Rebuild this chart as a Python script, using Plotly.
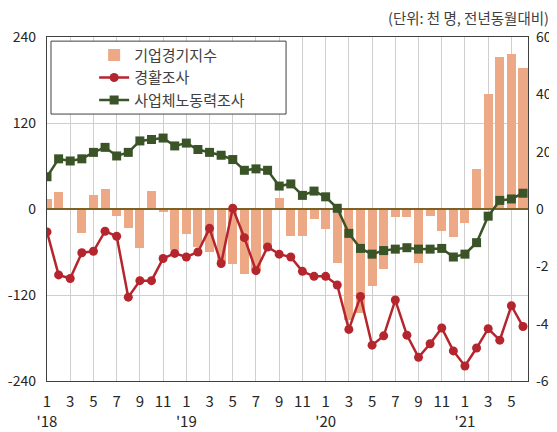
import plotly.graph_objects as go

# monthly, Jan 2018 .. Jun 2021
months = [f"{y}-{m:02d}" for y in (2018, 2019, 2020, 2021) for m in range(1, 13)][:42]

# 기업경기지수 (right axis)
bsi = [3.4, 5.8, 0, -8.5, 4.8, 7.0, -2.3, -6.7, -13.5, 6.3, -0.9, -14.3,
       -8.8, -13.1, -14.9, -19, -19.2, -22.7, -21.5, -14, 3.9, -9.3, -9.3, -3.6,
       -7.1, -19, -38.7, -36.2, -26.9, -21, -2.7, -2.7, -19, -2.4, -7.6, -9.9,
       -5, 14, 40, 53.1, 54.1, 49.2]

# 경활조사 (left axis, 천 명)
lfs = [-32, -92, -97, -61, -59, -31, -38, -123, -100, -100, -69, -62,
       -67, -60, -27, -76, 1, -40, -86, -53, -63, -67, -87, -94,
       -94, -106, -168, -122, -190, -177, -127, -176, -207, -188, -166, -198,
       -219, -194, -167, -183, -135, -164]

# 사업체노동력조사 (left axis, 천 명)
biz = [45, 70, 67, 70, 79, 86, 74, 79, 95, 97, 99, 88,
       92, 83, 79, 75, 69, 54, 56, 54, 32, 35, 19, 25,
       17, 1, -34, -55, -63, -58, -56, -54, -56, -56, -55, -67,
       -63, -47, -10, 12, 14, 22]

left_ticks = [-240, -120, 0, 120, 240]
right_ticks = [-60, -40, -20, 0, 20, 40, 60]

x = list(range(len(months)))
tick_idx = x[::2]
tick_text = []
for i in tick_idx:
    y, m = months[i].split("-")
    m = int(m)
    tick_text.append(f"1<br>'{y[2:]}" if m == 1 else str(m))

font = "Noto Sans CJK KR"
txt = "#262626"

fig = go.Figure()
fig.add_trace(go.Bar(
    x=x, y=bsi, name="기업경기지수", yaxis="y",
    marker=dict(color="#EDA886", line=dict(width=0)),
    width=0.78, legendgroup="a"
))
fig.add_trace(go.Scatter(
    x=[-1, len(months)], y=[0, 0], yaxis="y2", mode="lines",
    line=dict(color="#7F6124", width=2), showlegend=False, hoverinfo="skip"
))
fig.add_trace(go.Scatter(
    x=x, y=lfs, name="경활조사", yaxis="y2", mode="lines+markers",
    line=dict(color="#B5252D", width=2.5),
    marker=dict(symbol="circle", size=9, color="#B5252D"),
    legendgroup="b"
))
fig.add_trace(go.Scatter(
    x=x, y=biz, name="사업체노동력조사", yaxis="y2", mode="lines+markers",
    line=dict(color="#3A5428", width=2.5),
    marker=dict(symbol="square", size=9, color="#3A5428"),
    legendgroup="c"
))

# page body has an 8px margin, so the figure is a little smaller than the window
fig.update_layout(
    width=549, height=424,
    margin=dict(l=39, r=29, t=29, b=51),
    paper_bgcolor="white", plot_bgcolor="white",
    font=dict(family=font, size=15, color=txt),
    bargap=0,
    xaxis=dict(
        range=[0, 41.43], tickmode="array", tickvals=tick_idx, ticktext=tick_text,
        showgrid=True, gridcolor="#CFCFCF", gridwidth=1, automargin=False,
        showline=True, mirror=True, linecolor="#404040", linewidth=1.3,
        ticks="", ticklabelstandoff=7, zeroline=False, ticklabeloverflow="allow",
    ),
    yaxis=dict(
        side="right", range=[-60, 60], tickmode="array", tickvals=right_ticks,
        ticktext=[str(v) for v in right_ticks], tickfont=dict(size=14),
        showgrid=False, zeroline=False, automargin=False,
        showline=True, mirror=True, linecolor="#404040", linewidth=1.3,
        ticks="", ticklabelstandoff=4, ticklabeloverflow="allow",
    ),
    yaxis2=dict(
        overlaying="y", side="left", range=[-240, 240], tickmode="array",
        tickvals=left_ticks, ticktext=[str(v) for v in left_ticks],
        tickfont=dict(size=14),
        showgrid=True, gridcolor="#CFCFCF", gridwidth=1,
        zeroline=False, showline=False, ticks="", ticklabelstandoff=10,
        automargin=False, ticklabeloverflow="allow",
    ),
    legend=dict(
        x=0.098, y=0.995, xanchor="left", yanchor="top",
        bgcolor="rgba(0,0,0,0)", borderwidth=0,
        font=dict(size=15, color="#404040"), tracegroupgap=7,
        traceorder="normal", itemwidth=30,
    ),
    shapes=[dict(
        type="rect", xref="paper", yref="paper", layer="above",
        x0=0.0083, x1=0.497, y0=0.776, y1=0.988,
        fillcolor="white", line=dict(color="#404040", width=1),
    )],
    annotations=[dict(
        text="(단위: 천 명, 전년동월대비)", xref="paper", yref="paper",
        x=1.048, y=1.0567, xanchor="right", yanchor="middle", showarrow=False,
        font=dict(size=14.5, color="#404040"),
    )],
)

fig.write_html("out.html")
